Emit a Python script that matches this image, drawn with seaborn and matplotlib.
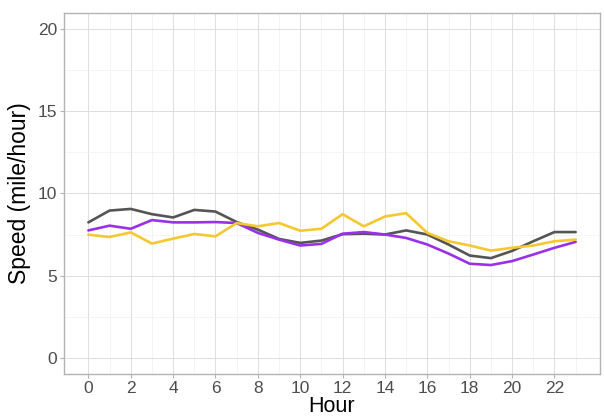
import numpy as np
import pandas as pd
import matplotlib
matplotlib.use("Agg")
import matplotlib.pyplot as plt
from matplotlib.ticker import FixedLocator, MultipleLocator
import seaborn as sns

hours = list(range(24))
hour_ticks = list(range(0, 23, 2))

speed_grey = [8.24, 8.96, 9.06, 8.74, 8.54, 9.00, 8.90, 8.26, 7.80, 7.23, 6.99, 7.13,
              7.52, 7.55, 7.50, 7.75, 7.50, 6.89, 6.22, 6.06, 6.50, 7.09, 7.65, 7.65]
speed_purple = [7.75, 8.04, 7.85, 8.38, 8.24, 8.24, 8.26, 8.20, 7.60, 7.19, 6.83, 6.93,
                7.55, 7.65, 7.50, 7.29, 6.89, 6.34, 5.72, 5.64, 5.88, 6.28, 6.69, 7.05]
speed_yellow = [7.49, 7.35, 7.63, 6.95, 7.25, 7.53, 7.39, 8.20, 8.00, 8.20, 7.73, 7.85,
                8.74, 8.00, 8.60, 8.80, 7.60, 7.09, 6.83, 6.52, 6.69, 6.83, 7.09, 7.19]

groups = ["A", "B", "C"]
colors = {"A": "#555555", "B": "#9A30E8", "C": "#F5C832"}

df = pd.DataFrame({
    "Hour": hours * 3,
    "Speed": speed_grey + speed_purple + speed_yellow,
    "group": [g for g in groups for _ in hours],
})

sns.set_theme(style="white")
plt.rcParams["font.family"] = ["Liberation Sans", "DejaVu Sans"]

fig = plt.figure(figsize=(6.04, 4.2), dpi=100)
ax = fig.add_axes([64 / 604, 46 / 420, 536 / 604, 361 / 420])

sns.lineplot(data=df, x="Hour", y="Speed", hue="group", palette=colors,
             linewidth=1.9, legend=False, ax=ax, zorder=3)

ax.set_xlim(-1.15, 24.15)
ax.set_ylim(-1, 21)
ax.xaxis.set_major_locator(FixedLocator(hour_ticks))
ax.xaxis.set_minor_locator(FixedLocator([h + 1 for h in hour_ticks]))
ax.yaxis.set_major_locator(MultipleLocator(5))
ax.yaxis.set_minor_locator(MultipleLocator(2.5))

ax.grid(which="major", color="#DEDEDE", linewidth=0.7)
ax.grid(which="minor", color="#EEEEEE", linewidth=0.45)
ax.set_axisbelow(True)

for s in ax.spines.values():
    s.set_color("#B3B3B3")
    s.set_linewidth(1.0)

ax.tick_params(axis="both", which="major", length=3, width=0.8, color="#B3B3B3",
               labelsize=12.5, labelcolor="#4D4D4D", pad=2, bottom=True, left=True)
ax.tick_params(axis="both", which="minor", length=0)

ax.set_xlabel("Hour", fontsize=15.5, color="black", labelpad=0)
ax.set_ylabel("Speed (mile/hour)", fontsize=16.5, color="black", labelpad=5)

fig.savefig("out.png", dpi=100)
